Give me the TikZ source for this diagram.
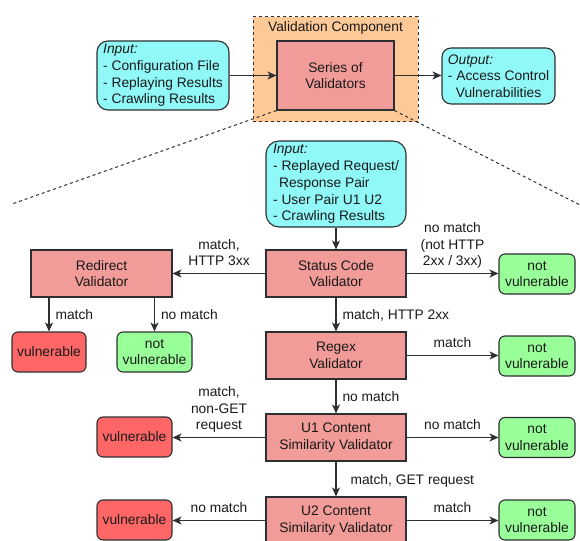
\documentclass[tikz,border=0pt]{standalone}
\usepackage{fontspec}
\usepackage{calc}
\setmainfont{Liberation Sans}
\usetikzlibrary{arrows.meta}

\definecolor{strokec}{RGB}{45,47,50}
\definecolor{textc}{RGB}{25,25,25}
\definecolor{cyanfill}{RGB}{145,248,248}
\definecolor{orangefill}{RGB}{253,201,150}
\definecolor{valfill}{RGB}{241,156,153}
\definecolor{redfill}{RGB}{255,102,102}
\definecolor{greenfill}{RGB}{153,255,153}

\tikzset{
  box/.style={draw=strokec, line width=1.1pt, text=textc, align=center, inner sep=2pt},
  validator/.style={box, fill=valfill, minimum width=140pt, minimum height=47pt},
  vuln/.style={box, fill=redfill, rounded corners=6pt, minimum width=75pt, minimum height=40pt},
  safe/.style={box, fill=greenfill, rounded corners=6pt, minimum width=76pt, minimum height=40pt},
  inbox/.style={box, fill=cyanfill, rounded corners=11pt},
  arr/.style={draw=strokec, line width=1.1pt, -{Stealth[length=9pt,width=8pt,inset=2.5pt]}},
  zoomline/.style={draw=strokec, line width=1pt, dash pattern=on 3pt off 3pt},
  lbl/.style={text=textc, align=center, inner sep=0pt, text depth=0pt},
  lblup/.style={lbl, above=7pt},
  lblright/.style={lbl, right=6pt},
}

\begin{document}
\begin{tikzpicture}[x=1pt, y=-1pt, font=\fontsize{13.8}{16.7}\selectfont]
\useasboundingbox (0,0) rectangle (580,540);
\clip (0,0) rectangle (580,540);

% ---- overview: validation component ----
\node[draw=strokec, line width=1pt, dash pattern=on 3pt off 3pt, fill=orangefill,
      minimum width=165pt, minimum height=105pt, inner sep=0pt] (vc) at (335.5,69.5) {};
\node[lbl] (vctitle) at (335.5,27) {Validation Component};

\node[box, fill=valfill, minimum width=117pt, minimum height=69pt] (series) at (335.5,75.5)
  {Series of\\Validators};

\node[inbox, align=left, minimum width=132pt, minimum height=69pt] (inA) at (163,75.5)
  {\textit{Input:}\\- Configuration File\\- Replaying Results\\- Crawling Results};

\node[inbox, rounded corners=9pt, minimum width=113pt, minimum height=56pt] (outA) at (498.5,76)
  {\makebox[\widthof{- Access Control}][l]{\textit{Output:}}\\- Access Control\\Vulnerabilities};

\draw[arr] (inA.east) -- (series.west);
\draw[arr] (series.east) -- (series.east -| outA.west);

% ---- zoom-in projection ----
\coordinate (zl) at (12,204);
\coordinate (zr) at (580,205);
\draw[zoomline] (series.south west) -- (zl);
\draw[zoomline] (series.south east) -- (zr);

% ---- detail: chain of validators ----
\node[inbox, rounded corners=13pt, align=left, minimum width=140pt, minimum height=86pt] (in2) at (336,184)
  {\textit{Input:}\\- Replayed Request/\\\hspace*{6pt}Response Pair\\- User Pair U1 U2\\- Crawling Results};

\node[validator] (status) at (336,273.5) {Status Code\\Validator};
\node[validator, minimum width=141pt] (redirect) at (101.5,273.5) {Redirect\\Validator};
\node[safe] (nv1) at (537,274) {not\\vulnerable};
\node[vuln, minimum width=74pt] (vA) at (49,352) {vulnerable};
\node[safe, minimum width=75pt] (nvB) at (154.5,352) {not\\vulnerable};

\node[validator] (regex) at (336,355.5) {Regex\\Validator};
\node[safe] (nv2) at (537,356) {not\\vulnerable};

\node[validator] (u1) at (336,437.5) {U1 Content\\Similarity Validator};
\node[vuln] (vC) at (134.5,437) {vulnerable};
\node[safe] (nv3) at (537,437.5) {not\\vulnerable};

\node[validator] (u2) at (336,520.5) {U2 Content\\Similarity Validator};
\node[vuln] (vD) at (134.5,520) {vulnerable};
\node[safe] (nv4) at (537,520) {not\\vulnerable};

% ---- connectors ----
\draw[arr] (in2.south) -- (status.north);

\draw[arr] (status.west) -- node[lblup] {match,\\HTTP 3xx} (redirect.east);
\draw[arr] (status.east) -- node[lblup] {no match\\(not HTTP\\2xx / 3xx)} (status.east -| nv1.west);

\draw[arr] (vA.north |- redirect.south) -- node[lblright] {match} (vA.north);
\draw[arr] (nvB.north |- redirect.south) -- node[lblright] {no match} (nvB.north);

\draw[arr] (status.south) -- node[lblright] {match, HTTP 2xx} (regex.north);
\draw[arr] (regex.east) -- node[lblup] {match} (regex.east -| nv2.west);

\draw[arr] (regex.south) -- node[lblright] {no match} (u1.north);
\draw[arr] (u1.west) -- node[lblup] {match,\\non-GET\\request} (u1.west -| vC.east);
\draw[arr] (u1.east) -- node[lblup] {no match} (u1.east -| nv3.west);

\draw[arr] (u1.south) -- node[lblright, right=8pt] {match, GET request} (u2.north);
\draw[arr] (u2.west) -- node[lblup] {no match} (u2.west -| vD.east);
\draw[arr] (u2.east) -- node[lblup] {match} (u2.east -| nv4.west);
\end{tikzpicture}
\end{document}
